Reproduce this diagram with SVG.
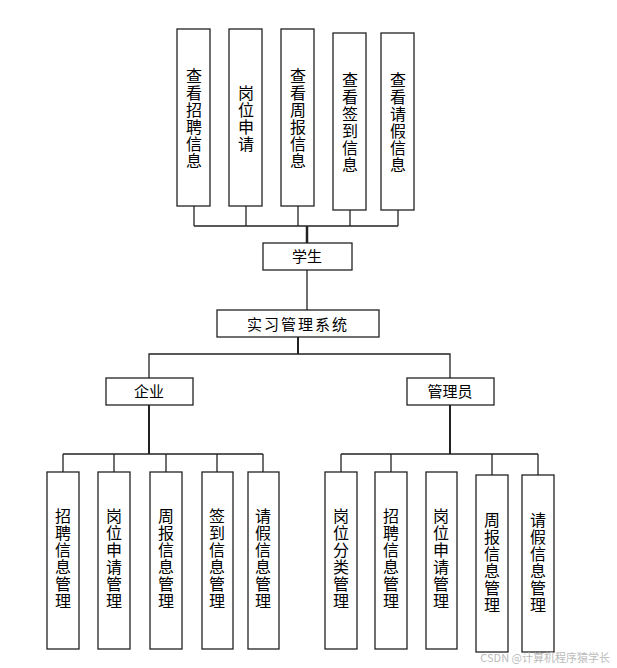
<svg xmlns="http://www.w3.org/2000/svg" width="617" height="668" viewBox="0 0 617 668">
<style>
rect{fill:#fff;stroke:#222;stroke-width:1.3}
text{font-family:"Noto Sans CJK SC","Liberation Sans",sans-serif;font-size:15px;fill:#000;text-anchor:middle}
.v{font-size:16px}
.c line,.c polyline{stroke:#222;stroke-width:1.3;fill:none}
.wm{font-size:11px;fill:#bbb;text-anchor:end}
</style>
<rect x="0" y="0" width="617" height="668" style="fill:#fff;stroke:none"/>
<g class="c" id="connectors">
<line x1="194" y1="226" x2="398" y2="226"/>
<line x1="194" y1="206" x2="194" y2="226"/><line x1="246" y1="206" x2="246" y2="226"/><line x1="298" y1="206" x2="298" y2="226"/><line x1="350" y1="210" x2="350" y2="226"/><line x1="398" y1="210" x2="398" y2="226"/>
<line x1="307" y1="226" x2="307" y2="243" style="stroke-width:2.5"/>
<line x1="307" y1="270" x2="307" y2="310"/>
<line x1="298" y1="337" x2="298" y2="354" style="stroke-width:2"/>
<polyline points="149,378 149,354 450,354 450,378"/>
<line x1="149" y1="405" x2="149" y2="454" style="stroke-width:2"/>
<line x1="450" y1="405" x2="450" y2="454" style="stroke-width:2"/>
<line x1="63" y1="454" x2="263" y2="454"/>
<line x1="63" y1="454" x2="63" y2="472"/><line x1="114" y1="454" x2="114" y2="472"/><line x1="166" y1="454" x2="166" y2="472"/><line x1="217" y1="454" x2="217" y2="472"/><line x1="263" y1="454" x2="263" y2="472"/>
<line x1="341" y1="454" x2="538" y2="454"/>
<line x1="341" y1="454" x2="341" y2="472"/><line x1="391" y1="454" x2="391" y2="472"/><line x1="492" y1="454" x2="492" y2="475"/><line x1="538" y1="454" x2="538" y2="475"/>
</g>
<g id="s1"><rect x="177" y="29" width="33" height="177"/><text class="v" x="194" y="82"><tspan x="194">查</tspan><tspan x="194" dy="17">看</tspan><tspan x="194" dy="17">招</tspan><tspan x="194" dy="17">聘</tspan><tspan x="194" dy="17">信</tspan><tspan x="194" dy="17">息</tspan></text></g>
<g id="s2"><rect x="229" y="29" width="33" height="177"/><text class="v" x="246" y="99"><tspan x="246">岗</tspan><tspan x="246" dy="17">位</tspan><tspan x="246" dy="17">申</tspan><tspan x="246" dy="17">请</tspan></text></g>
<g id="s3"><rect x="281" y="29" width="33" height="177"/><text class="v" x="298" y="82"><tspan x="298">查</tspan><tspan x="298" dy="17">看</tspan><tspan x="298" dy="17">周</tspan><tspan x="298" dy="17">报</tspan><tspan x="298" dy="17">信</tspan><tspan x="298" dy="17">息</tspan></text></g>
<g id="s4"><rect x="333" y="33" width="33" height="177"/><text class="v" x="350" y="86"><tspan x="350">查</tspan><tspan x="350" dy="17">看</tspan><tspan x="350" dy="17">签</tspan><tspan x="350" dy="17">到</tspan><tspan x="350" dy="17">信</tspan><tspan x="350" dy="17">息</tspan></text></g>
<g id="s5"><rect x="381" y="33" width="33" height="177"/><text class="v" x="398" y="86"><tspan x="398">查</tspan><tspan x="398" dy="17">看</tspan><tspan x="398" dy="17">请</tspan><tspan x="398" dy="17">假</tspan><tspan x="398" dy="17">信</tspan><tspan x="398" dy="17">息</tspan></text></g>
<g id="student"><rect x="263" y="243" width="89" height="27"/><text x="307" y="262">学生</text></g>
<g id="system"><rect x="217" y="310" width="162" height="27"/><text x="298" y="330" style="letter-spacing:2px">实习管理系统</text></g>
<g id="enterprise"><rect x="106" y="378" width="87" height="27"/><text x="149" y="397">企业</text></g>
<g id="admin"><rect x="407" y="378" width="87" height="27"/><text x="450" y="397">管理员</text></g>
<g id="e1"><rect x="47" y="472" width="32" height="177"/><text class="v" x="63" y="522"><tspan x="63">招</tspan><tspan x="63" dy="17">聘</tspan><tspan x="63" dy="17">信</tspan><tspan x="63" dy="17">息</tspan><tspan x="63" dy="17">管</tspan><tspan x="63" dy="17">理</tspan></text></g>
<g id="e2"><rect x="98" y="472" width="32" height="177"/><text class="v" x="114" y="522"><tspan x="114">岗</tspan><tspan x="114" dy="17">位</tspan><tspan x="114" dy="17">申</tspan><tspan x="114" dy="17">请</tspan><tspan x="114" dy="17">管</tspan><tspan x="114" dy="17">理</tspan></text></g>
<g id="e3"><rect x="150" y="472" width="32" height="177"/><text class="v" x="166" y="522"><tspan x="166">周</tspan><tspan x="166" dy="17">报</tspan><tspan x="166" dy="17">信</tspan><tspan x="166" dy="17">息</tspan><tspan x="166" dy="17">管</tspan><tspan x="166" dy="17">理</tspan></text></g>
<g id="e4"><rect x="202" y="472" width="31" height="177"/><text class="v" x="217" y="522"><tspan x="217">签</tspan><tspan x="217" dy="17">到</tspan><tspan x="217" dy="17">信</tspan><tspan x="217" dy="17">息</tspan><tspan x="217" dy="17">管</tspan><tspan x="217" dy="17">理</tspan></text></g>
<g id="e5"><rect x="248" y="472" width="31" height="177"/><text class="v" x="263" y="522"><tspan x="263">请</tspan><tspan x="263" dy="17">假</tspan><tspan x="263" dy="17">信</tspan><tspan x="263" dy="17">息</tspan><tspan x="263" dy="17">管</tspan><tspan x="263" dy="17">理</tspan></text></g>
<g id="a1"><rect x="325" y="472" width="32" height="177"/><text class="v" x="341" y="522"><tspan x="341">岗</tspan><tspan x="341" dy="17">位</tspan><tspan x="341" dy="17">分</tspan><tspan x="341" dy="17">类</tspan><tspan x="341" dy="17">管</tspan><tspan x="341" dy="17">理</tspan></text></g>
<g id="a2"><rect x="375" y="472" width="32" height="177"/><text class="v" x="391" y="522"><tspan x="391">招</tspan><tspan x="391" dy="17">聘</tspan><tspan x="391" dy="17">信</tspan><tspan x="391" dy="17">息</tspan><tspan x="391" dy="17">管</tspan><tspan x="391" dy="17">理</tspan></text></g>
<g id="a3"><rect x="426" y="472" width="31" height="177"/><text class="v" x="441" y="522"><tspan x="441">岗</tspan><tspan x="441" dy="17">位</tspan><tspan x="441" dy="17">申</tspan><tspan x="441" dy="17">请</tspan><tspan x="441" dy="17">管</tspan><tspan x="441" dy="17">理</tspan></text></g>
<g id="a4"><rect x="476" y="475" width="32" height="177"/><text class="v" x="492" y="526"><tspan x="492">周</tspan><tspan x="492" dy="17">报</tspan><tspan x="492" dy="17">信</tspan><tspan x="492" dy="17">息</tspan><tspan x="492" dy="17">管</tspan><tspan x="492" dy="17">理</tspan></text></g>
<g id="a5"><rect x="522" y="475" width="32" height="177"/><text class="v" x="538" y="526"><tspan x="538">请</tspan><tspan x="538" dy="17">假</tspan><tspan x="538" dy="17">信</tspan><tspan x="538" dy="17">息</tspan><tspan x="538" dy="17">管</tspan><tspan x="538" dy="17">理</tspan></text></g>
<text class="wm" x="610" y="662">CSDN @计算机程序猿学长</text>
</svg>
